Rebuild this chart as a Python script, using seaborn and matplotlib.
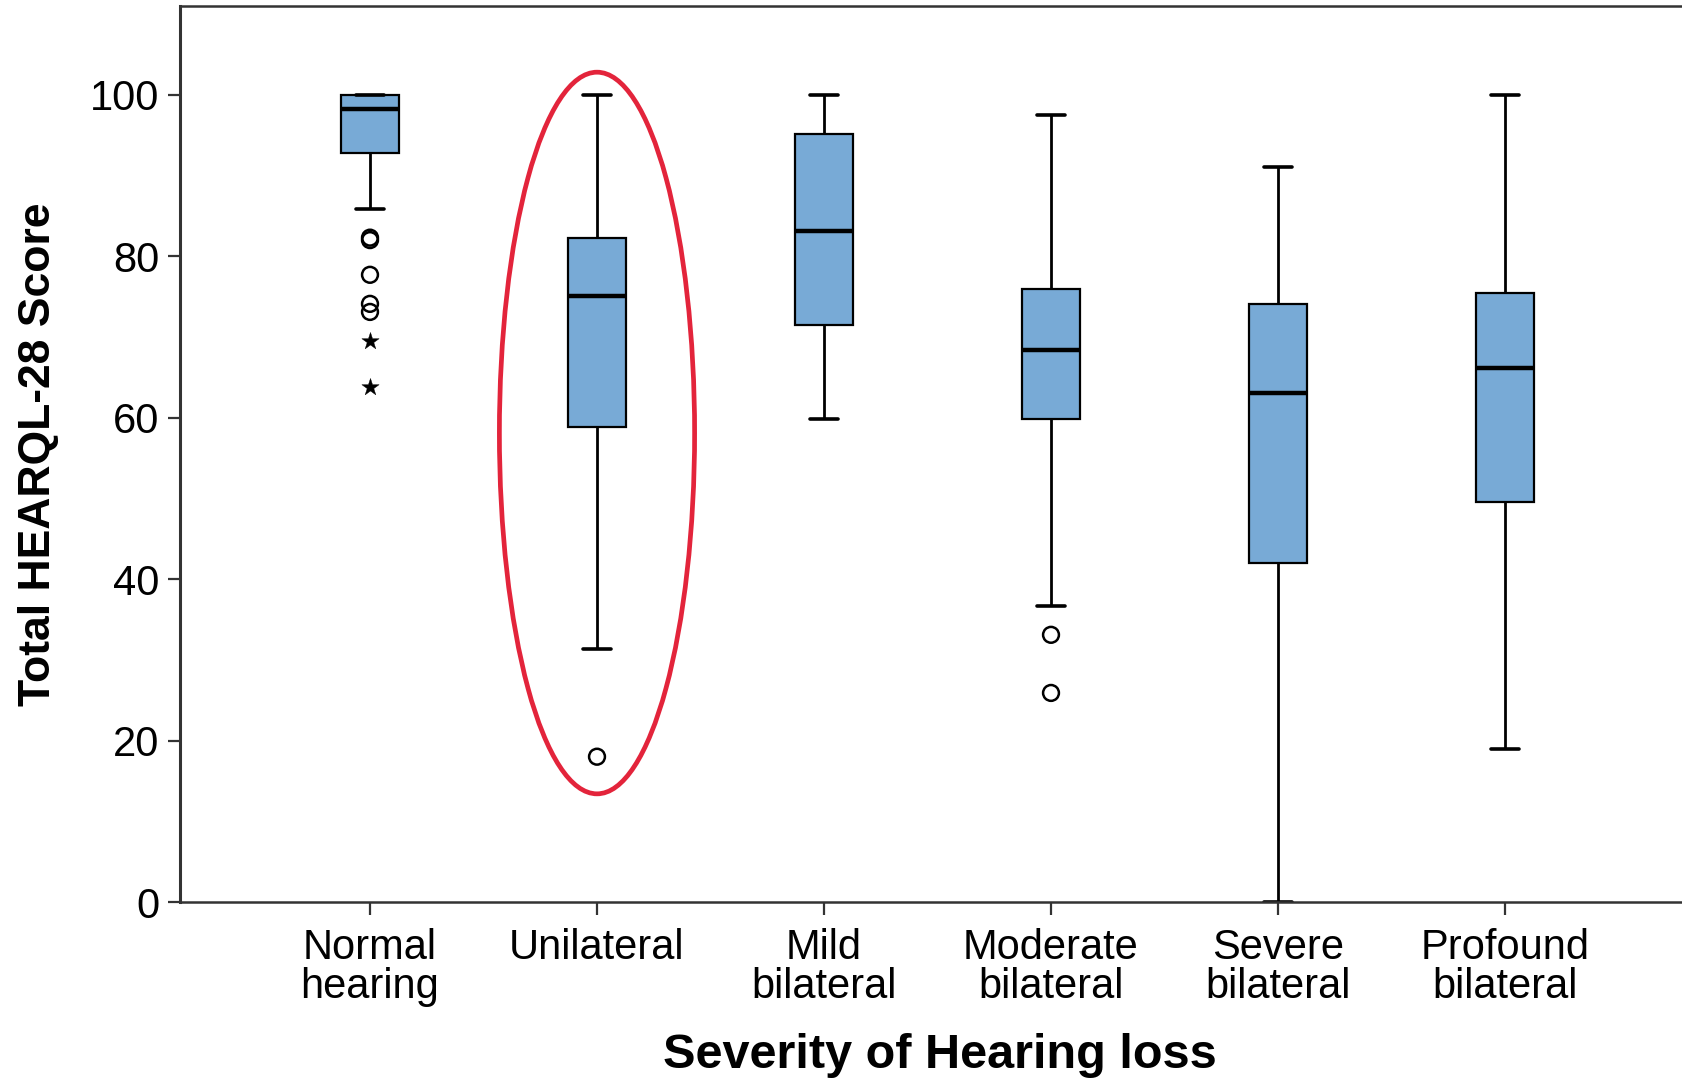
import numpy as np
import pandas as pd
import matplotlib
matplotlib.use("Agg")
import matplotlib.pyplot as plt
from matplotlib.patches import Ellipse
import seaborn as sns

# ---- data (five-number summaries per group) ----
categories = ["Normal\nhearing", "Unilateral", "Mild\nbilateral",
              "Moderate\nbilateral", "Severe\nbilateral", "Profound\nbilateral"]
whisker_low = [85.8, 31.3, 59.8, 36.7, 0.0, 18.9]
q1          = [92.8, 58.9, 71.5, 59.8, 42.0, 49.6]
median      = [98.3, 75.1, 83.1, 68.4, 63.0, 66.1]
q3          = [100.0, 82.2, 95.1, 75.9, 74.1, 75.5]
whisker_high = [100.0, 100.0, 100.0, 97.5, 91.1, 100.0]

# outliers (circles) and extremes (stars)
outlier_group = ["Normal\nhearing"] * 5 + ["Unilateral"] + ["Moderate\nbilateral"] * 2
outlier_value = [82.0, 82.3, 77.7, 74.1, 73.1, 18.0, 33.1, 25.9]
extreme_group = ["Normal\nhearing"] * 2
extreme_value = [69.5, 63.8]

x_label = "Severity of Hearing loss"
y_label = "Total HEARQL-28 Score"
y_ticks = [0, 20, 40, 60, 80, 100]

# ---- build long-form table from the summaries ----
rows = []
for i, c in enumerate(categories):
    for v in (whisker_low[i], q1[i], median[i], q3[i], whisker_high[i]):
        rows.append({"group": c, "score": v})
df = pd.DataFrame(rows)

pos = {c: i for i, c in enumerate(categories)}
df_out = pd.DataFrame({"x": [pos[g] for g in outlier_group], "score": outlier_value})
df_ext = pd.DataFrame({"x": [pos[g] for g in extreme_group], "score": extreme_value})

sns.set_theme(style="white")
plt.rcParams["font.family"] = ["Liberation Sans", "DejaVu Sans"]
plt.rcParams["text.color"] = "black"
plt.rcParams["axes.labelcolor"] = "black"

fig = plt.figure(figsize=(16.83, 10.79), dpi=100)
ax = fig.add_axes([180 / 1683, 177 / 1079, (1700 - 180) / 1683, 896 / 1079])

box_color = "#78AAD6"
sns.boxplot(data=df, x="group", y="score", order=categories, color=box_color,
            saturation=1, width=0.255, whis=np.inf, linewidth=1.6,
            linecolor="black", ax=ax,
            medianprops=dict(color="black", linewidth=3.2),
            whiskerprops=dict(color="black", linewidth=2.0),
            capprops=dict(color="black", linewidth=2.6),
            boxprops=dict(edgecolor="black", linewidth=1.6))

sns.scatterplot(data=df_out, x="x", y="score", marker="o", s=130,
                facecolor="none", edgecolor="black", linewidth=1.8, ax=ax,
                zorder=5)
sns.scatterplot(data=df_ext, x="x", y="score", marker="*", s=170,
                color="black", edgecolor="black", linewidth=0.3, ax=ax,
                zorder=5)

# highlight ellipse around the Unilateral group
ell = Ellipse((1, 58.1), width=0.86, height=89.4, fill=False,
              edgecolor="#E3243B", linewidth=3.4, zorder=6)
ax.add_patch(ell)

ax.set_xlim(-0.837, -0.837 + (1700 - 180) / 227)
ax.set_ylim(0, 111.0)
ax.set_yticks(y_ticks)
ax.set_xticks(range(len(categories)))
ax.set_xticklabels(categories, fontsize=30, linespacing=0.95)
ax.tick_params(axis="y", labelsize=30, length=9, width=1.6, color="#333333",
               labelcolor="black", direction="out", left=True, pad=6)
ax.tick_params(axis="x", length=9, width=1.6, color="#333333",
               labelcolor="black", direction="out", bottom=True, pad=10)

ax.set_xlabel(x_label, fontsize=35, fontweight="bold", labelpad=19)
ax.set_ylabel(y_label, fontsize=32, fontweight="bold", labelpad=22)

for side in ["left", "bottom", "top"]:
    ax.spines[side].set_visible(True)
    ax.spines[side].set_color("#333333")
ax.spines["left"].set_linewidth(2.2)
ax.spines["bottom"].set_linewidth(1.8)
ax.spines["top"].set_linewidth(1.8)
ax.spines["right"].set_visible(False)
ax.grid(False)

fig.savefig("out.png", dpi=100, facecolor="white")
